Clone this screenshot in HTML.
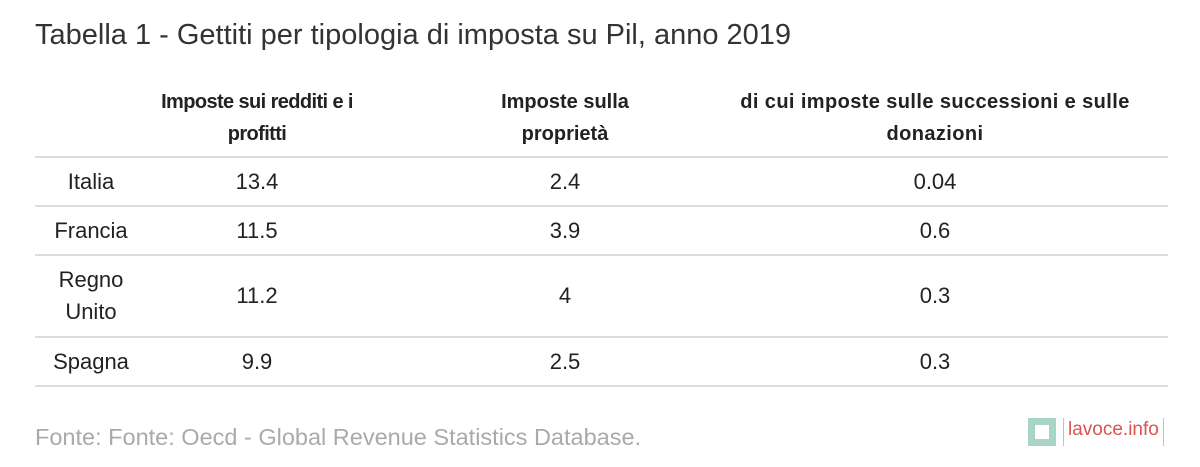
<!DOCTYPE html>
<html><head><meta charset="utf-8"><style>
body{margin:0;width:1200px;height:467px;background:#fff;font-family:"Liberation Sans",sans-serif;color:#222;position:relative;overflow:hidden}
.t{position:absolute;white-space:nowrap}
.title{left:35px;top:19px;font-size:29px;color:#333}
.h{font-weight:bold;font-size:20px;text-align:center;line-height:32px;position:absolute;color:#222;white-space:nowrap}
.c{position:absolute;font-size:22px;text-align:center;color:#222}
.line{position:absolute;left:35px;width:1133px;height:2px;background:#ddd}
</style></head><body>
<div class="t title">Tabella 1 - Gettiti per tipologia di imposta su Pil, anno 2019</div>
<div class="h" style="left:157px;width:200px;top:86px;letter-spacing:-0.6px">Imposte sui redditi e i<br>profitti</div>
<div class="h" style="left:465px;width:200px;top:86px">Imposte sulla<br>proprietà</div>
<div class="h" style="left:700px;width:470px;top:86px;letter-spacing:0.4px">di cui imposte sulle successioni e sulle<br>donazioni</div>
<div id="rows"></div>
<div class="t" style="left:35px;top:424px;font-size:23.5px;color:#aaa">Fonte: Fonte: Oecd - Global Revenue Statistics Database.</div>
<div style="position:absolute;left:1028px;top:418px;width:28px;height:28px;background:#a9d6c4"><div style="position:absolute;left:7px;top:7px;width:14px;height:14px;background:#fff"></div></div>
<div style="position:absolute;left:1063px;top:418px;width:1px;height:28px;background:#e8b0a8"></div>
<div style="position:absolute;left:1163px;top:418px;width:1px;height:28px;background:#e8b0a8"></div>
<div class="t" style="left:1068px;top:419px;font-size:19px;color:#d9534f">lavoce.info</div>
<script>
const countries=["Italia","Francia","Regno<br>Unito","Spagna"];
const income=["13.4","11.5","11.2","9.9"];
const property=["2.4","3.9","4","2.5"];
const inherit=["0.04","0.6","0.3","0.3"];
const tops=[157,206,255,337];
const bottoms=[206,255,337,386];
const R=document.getElementById('rows');
function add(html,style,name){const d=document.createElement('div');d.className='c';d.innerHTML=html;d.style.cssText=style;


R.appendChild(d);return d;}
const l0=document.createElement('div');l0.className='line';l0.style.top='156px';


R.appendChild(l0);
countries.forEach((c,i)=>{
 const t=tops[i],b=bottoms[i],mid=(t+b)/2;
 const lh=32, lines=c.split('<br>').length;
 const top=mid-lines*lh/2;
 add(c,`left:35px;width:112px;top:${top}px;line-height:${lh}px`,'country-label');
 add(income[i],`left:157px;width:200px;top:${mid-14}px;line-height:28px`,'income-tax-value');
 add(property[i],`left:465px;width:200px;top:${mid-14}px;line-height:28px`,'property-tax-value');
 add(inherit[i],`left:700px;width:470px;top:${mid-14}px;line-height:28px`,'inheritance-tax-value');
 const l=document.createElement('div');l.className='line';l.style.top=(b-1)+'px';
 
 
 R.appendChild(l);
});
</script>
</body></html>
